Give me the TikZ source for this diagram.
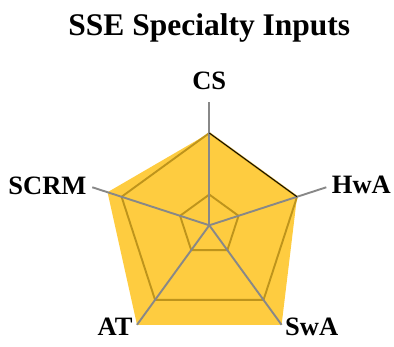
\documentclass[tikz,border=0pt]{standalone}
\usepackage{fontspec}
\setmainfont{Liberation Serif}
\usetikzlibrary{calc}
\definecolor{radarfill}{RGB}{254,204,64}
\definecolor{ringcol}{RGB}{190,148,28}
\definecolor{axiscol}{RGB}{136,136,136}
\begin{document}
\begin{tikzpicture}[x=1pt,y=1pt,
  axisline/.style={draw=axiscol,line width=1.9pt},
  ringline/.style={draw=ringcol,line width=1.9pt,line join=miter},
  axislabel/.style={inner sep=0pt,font=\fontsize{26.5}{30}\selectfont\bfseries},
  charttitle/.style={inner sep=0pt,font=\fontsize{31.5}{36}\selectfont\bfseries}]
\useasboundingbox (0,0) rectangle (394,347);
\def\R{123}
\coordinate (c) at (209.3,121.7);
% axis end points
\coordinate (eCS)   at ($(c)+(90:\R)$);
\coordinate (eHwA)  at ($(c)+(18:\R)$);
\coordinate (eSwA)  at ($(c)+(-54:\R)$);
\coordinate (eAT)   at ($(c)+(-126:\R)$);
\coordinate (eSCRM) at ($(c)+(162:\R)$);
% data values
\coordinate (vCS)   at ($(c)+(90:0.75*\R)$);
\coordinate (vHwA)  at ($(c)+(18:0.75*\R)$);
\coordinate (vSwA)  at ($(c)+(-54:1.0*\R)$);
\coordinate (vAT)   at ($(c)+(-126:1.0*\R)$);
\coordinate (vSCRM) at ($(c)+(162:0.87*\R)$);
% filled data area
\fill[radarfill] (vCS) -- (vHwA) -- (vSwA) -- (vAT) -- (vSCRM) -- cycle;
% grid rings
\foreach \f in {0.25,0.75}{
  \draw[ringline] ($(c)+(90:\f*\R)$) -- ($(c)+(18:\f*\R)$) -- ($(c)+(-54:\f*\R)$)
    -- ($(c)+(-126:\f*\R)$) -- ($(c)+(162:\f*\R)$) -- cycle;
}
% spokes
\foreach \e in {eCS,eHwA,eSwA,eAT,eSCRM}{
  \draw[axisline] (c) -- (\e);
}
\draw[black,line width=0.8pt] (vCS) -- (vHwA);
% labels
\node[axislabel,anchor=base] (lCS) at (209.3,257.7) {CS};
\node[axislabel,anchor=base west] (lHwA) at (331.7,153.7) {HwA};
\node[axislabel,anchor=base east] (lSCRM) at (86.7,152.7) {SCRM};
\node[axislabel,anchor=base east] (lAT) at (132.7,11) {AT};
\node[axislabel,anchor=base west] (lSwA) at (285,11) {SwA};
\node[charttitle,anchor=base] (title) at (209.3,311.3) {SSE Specialty Inputs};
\end{tikzpicture}
\end{document}
